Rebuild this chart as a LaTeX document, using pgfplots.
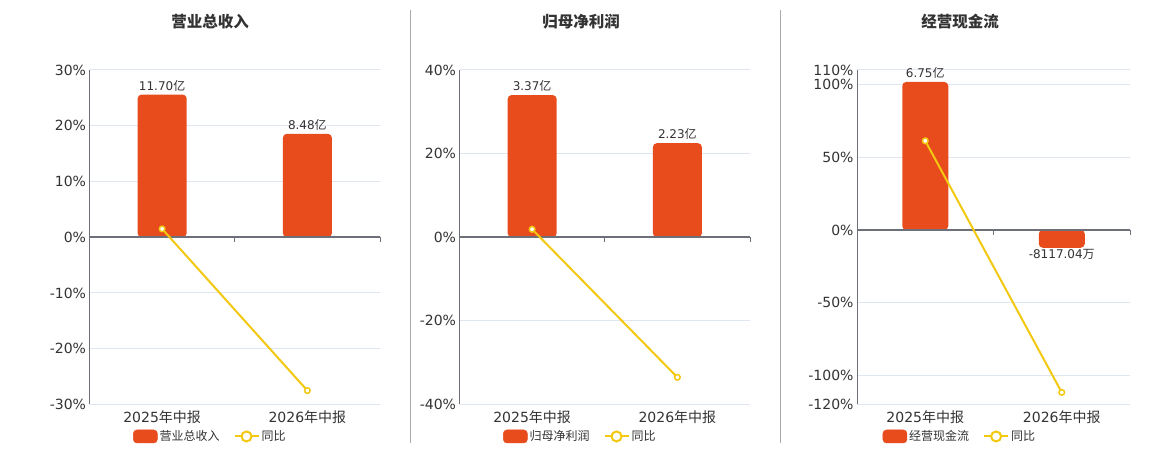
\documentclass[border=0pt]{standalone}
\usepackage{pgfplots}
\pgfplotsset{compat=1.18}
\usepackage{fontspec}
\setmainfont{DejaVu Sans}
\newfontfamily\cjk{Noto Sans CJK SC}
\definecolor{barc}{HTML}{E84C1C}
\definecolor{linec}{HTML}{F2C811}
\definecolor{gridc}{HTML}{E0E6F1}
\definecolor{axc}{HTML}{6E7079}
\definecolor{txt}{HTML}{333333}
\definecolor{sepc}{HTML}{AAAAAA}
\pgfplotsset{
  common/.style={scale only axis, height=334.5pt, xmin=-0.5, xmax=1.5,
    anchor=south west, clip=false},
  gridaxis/.style={common,
    xtick={0,1}, xticklabels={2025{\cjk 年中报},2026{\cjk 年中报}},
    axis x line=bottom, axis y line=left, axis line style={-},
    x axis line style={draw=none}, y axis line style={axc, line width=1pt},
    ymajorgrids, grid style={gridc, line width=1pt}, major tick length=0pt,
    tick label style={font=\fontsize{14}{16}\selectfont, text=txt},
    xticklabel style={yshift=-3pt}},
  hidden/.style={common, axis lines=none, xtick=\empty, ytick=\empty},
  barplot/.style={ybar, bar width=#1, fill=barc, draw=none, rounded corners=4pt,
    nodes near coords, point meta=explicit symbolic,
    every node near coord/.append style={font=\fontsize{12}{14}\selectfont, text=txt, rounded corners=0pt}},
  lineplot/.style={linec, line width=2pt, mark=*, mark size=2.8pt,
    mark options={fill=white, draw=linec, line width=1.5pt},
    legend image code/.code={\draw[linec, line width=2pt] (0pt,0pt) -- (24pt,0pt);
      \draw[linec, line width=2pt, fill=white] (12pt,0pt) circle (5pt);}},
  legbox/.style={legend columns=2,
    legend style={at={(#1,-0.0955)}, anchor=center, draw=none, fill=none,
      font=\cjk\fontsize{12}{14}\selectfont, text=txt,
      /tikz/every even column/.append style={column sep=12pt}}},
}
\newcommand{\barleg}{\addlegendimage{legend image code/.code={\fill[barc, rounded corners=3.5pt] (0pt,-6.5pt) rectangle (24pt,6.5pt);}}}
\newcommand{\zeroline}{%
  \draw[axc, line width=1.5pt] (axis cs:-0.5,0) -- (axis cs:1.5,0);
  \draw[axc, line width=1pt] (axis cs:0.5,0) -- ([yshift=-5pt]axis cs:0.5,0);
  \draw[axc, line width=1pt] (axis cs:1.5,0) -- ([yshift=-5pt]axis cs:1.5,0);}
\begin{document}
\begin{tikzpicture}
\fill[white] (0,0) rectangle (1160pt,450pt);
\useasboundingbox (0,0) rectangle (1160pt,450pt);
\draw[sepc, line width=1pt] (410.5pt,7pt) -- (410.5pt,440pt);
\draw[sepc, line width=1pt] (780.5pt,7pt) -- (780.5pt,440pt);
\node[font=\cjk\bfseries\fontsize{15.5}{18}\selectfont, text=txt] at (210pt,428pt) {营业总收入};
\node[font=\cjk\bfseries\fontsize{15.5}{18}\selectfont, text=txt] at (581pt,428pt) {归母净利润};
\node[font=\cjk\bfseries\fontsize{15.5}{18}\selectfont, text=txt] at (960pt,428pt) {经营现金流};

% ---------- Panel 1 ----------
\begin{axis}[gridaxis, at={(89.5pt,45.5pt)}, width=290.5pt, ymin=-30, ymax=30,
  ytick={-30,-20,-10,0,10,20,30},
  yticklabels={-30\%,-20\%,-10\%,0\%,10\%,20\%,30\%}]
\addplot[draw=none] coordinates {(0,0)};
\end{axis}
\begin{axis}[hidden, at={(89.5pt,45.5pt)}, width=290.5pt, ymin=-13.711, ymax=13.711]
\addplot[barplot=49pt] coordinates {(0,11.70) [11.70{\cjk 亿}] (1,8.48) [8.48{\cjk 亿}]};
\zeroline
\end{axis}
\begin{axis}[hidden, at={(89.5pt,45.5pt)}, width=290.5pt, ymin=-30, ymax=30, legbox=0.416]
\barleg
\addlegendentry{营业总收入}
\addplot[lineplot] coordinates {(0,1.5) (1,-27.5)};
\addlegendentry{同比}
\end{axis}

% ---------- Panel 2 ----------
\begin{axis}[gridaxis, at={(459.5pt,45.5pt)}, width=290.5pt, ymin=-40, ymax=40,
  ytick={-40,-20,0,20,40},
  yticklabels={-40\%,-20\%,0\%,20\%,40\%}]
\addplot[draw=none] coordinates {(0,0)};
\end{axis}
\begin{axis}[hidden, at={(459.5pt,45.5pt)}, width=290.5pt, ymin=-3.964, ymax=3.964]
\addplot[barplot=49pt] coordinates {(0,3.37) [3.37{\cjk 亿}] (1,2.23) [2.23{\cjk 亿}]};
\zeroline
\end{axis}
\begin{axis}[hidden, at={(459.5pt,45.5pt)}, width=290.5pt, ymin=-40, ymax=40, legbox=0.416]
\barleg
\addlegendentry{归母净利润}
\addplot[lineplot] coordinates {(0,1.9) (1,-33.5)};
\addlegendentry{同比}
\end{axis}

% ---------- Panel 3 ----------
\begin{axis}[gridaxis, at={(857pt,45.5pt)}, width=273pt, ymin=-120, ymax=110,
  ytick={-120,-100,-50,0,50,100,110},
  yticklabels={-120\%,-100\%,-50\%,0\%,50\%,100\%,110\%}]
\addplot[draw=none] coordinates {(0,0)};
\end{axis}
\begin{axis}[hidden, at={(857pt,45.5pt)}, width=273pt, ymin=-7.958, ymax=7.294]
\addplot[barplot=46pt] coordinates {(0,6.75) [6.75{\cjk 亿}]};
\addplot[barplot=46pt, every node near coord/.append style={anchor=north, inner sep=1pt}]
  coordinates {(1,-0.811704) [-8117.04{\cjk 万}]};
\zeroline
\end{axis}
\begin{axis}[hidden, at={(857pt,45.5pt)}, width=273pt, ymin=-120, ymax=110, legbox=0.377]
\barleg
\addlegendentry{经营现金流}
\addplot[lineplot] coordinates {(0,61.3) (1,-111.7)};
\addlegendentry{同比}
\end{axis}
\end{tikzpicture}
\end{document}
